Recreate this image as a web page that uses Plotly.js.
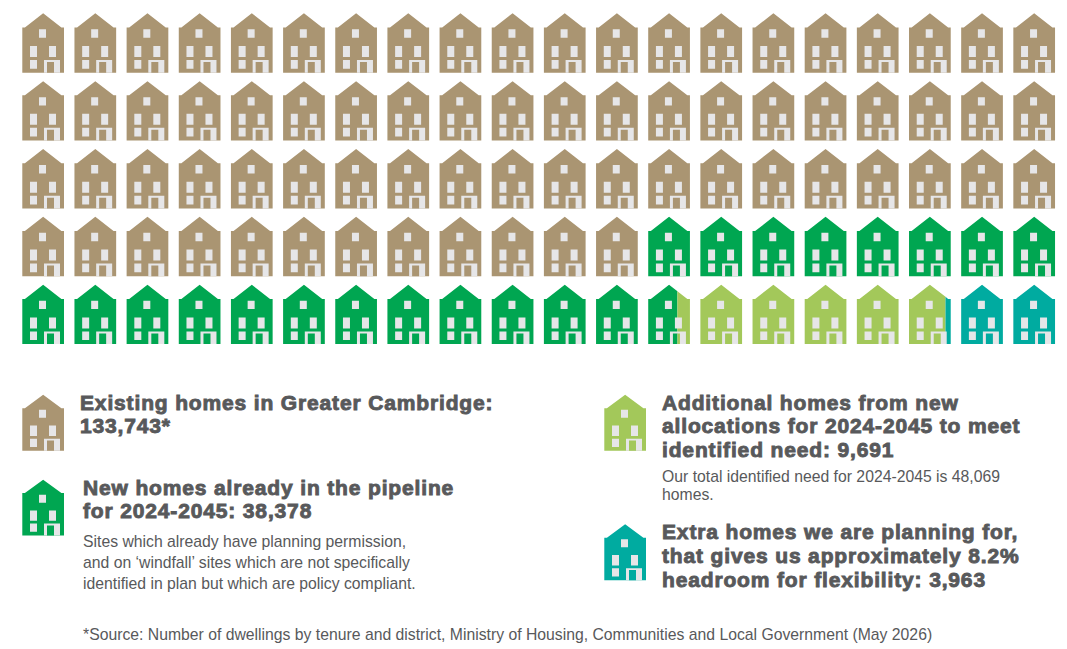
<!DOCTYPE html>
<html>
<head>
<meta charset="utf-8">
<script src="https://cdn.plot.ly/plotly-3.0.1.min.js"></script>
<style>
html,body{margin:0;padding:0;background:#fff;}
text.annotation-text[style*="font-size: 21"]{letter-spacing:0.85px;stroke:#58595b;stroke-width:0.9px;}
</style>
</head>
<body>
<div id="chart" style="width:1067px;height:649px;"></div>
<script>
// ---- data ----
var categories = ['Existing homes', 'Pipeline', 'New allocations', 'Headroom'];
var homes = [133743, 38378, 9691, 3963];
var iconShares = [72, 20.7, 5.175, 2.125];   // number of house icons filled by each category
var colors = ['#AA9572', '#00A651', '#A3C85A', '#00ABA0'];
var paneColor = '#E6E6E8';
var inkColor = '#58595B';

var gridCols = 20, gridRows = 5;
var gridX0 = 22.3, gridY0 = 13.3, pitchX = 52.16, pitchY = 67.85;

// house glyph, in px relative to its top-left corner
var glyphW = 41.7, glyphH = 59.4;
var glyphBody = [[0,59.4],[0,14.2],[2.6,14.2],[20.85,0],[39.1,14.2],[41.7,14.2],[41.7,59.4]];
function box(x0,x1,y0,y1){return [[x0,y0],[x1,y0],[x1,y1],[x0,y1]];}
var glyphPanes = [box(16.7,23.7,16,24.4),box(7.7,14.7,32.7,43.7),box(26.7,33.7,32.7,43.7),box(7.7,14.7,46.7,55.4),box(21.7,37.7,46.7,59.4)];
var glyphDoor = box(24.7,31.7,48.7,59.4);

// key icons
var keyIcons = [[22.3,394.8,0],[22.3,479.7,1],[604.3,394.8,2],[604.3,524.3,3]];
var keyScaleY = 0.94;

// text lines: [x, y centre, size class, string]
var lines = [
 [79.5,402.3,'h','Existing homes in Greater Cambridge:'],
 [79.5,425.3,'h','133,743*'],
 [82.5,487.8,'h','New homes already in the pipeline'],
 [82.5,510.8,'h','for 2024-2045: 38,378'],
 [82.5,541.2,'s','Sites which already have planning permission,'],
 [82.5,562.2,'s','and on ‘windfall’ sites which are not specifically'],
 [82.5,583.2,'s','identified in plan but which are policy compliant.'],
 [662,402.3,'h','Additional homes from new'],
 [662,425.3,'h','allocations for 2024-2045 to meet'],
 [662,449.3,'h','identified need: 9,691'],
 [662,476.2,'s','Our total identified need for 2024-2045 is 48,069'],
 [662,494.2,'s','homes.'],
 [662,531.8,'h','Extra homes we are planning for,'],
 [662,555.8,'h','that gives us approximately 8.2%'],
 [662,579.8,'h','headroom for flexibility: 3,963'],
 [82.5,634.2,'s','*Source: Number of dwellings by tenure and district, Ministry of Housing, Communities and Local Government (May 2026)']
];

// ---- helpers ----
function clipX(poly, a, b){
  function clip(p, lim, keepLess){
    var out = [];
    for (var i=0;i<p.length;i++){
      var c=p[i], n=p[(i+1)%p.length];
      var ci = keepLess ? c[0]<=lim : c[0]>=lim;
      var ni = keepLess ? n[0]<=lim : n[0]>=lim;
      if (ci) out.push(c);
      if (ci!==ni){
        var t=(lim-c[0])/(n[0]-c[0]);
        out.push([lim,c[1]+t*(n[1]-c[1])]);
      }
    }
    return out;
  }
  return clip(clip(poly,a,false),b,true);
}
function add(tr, poly, ox, oy, sy){
  if (!poly.length) return;
  poly.concat([poly[0]]).forEach(function(p){
    tr.x.push(ox+p[0]); tr.y.push(oy+p[1]*sy);
  });
  tr.x.push(null); tr.y.push(null);
}
function newTrace(name,color){
  return {type:'scatter',mode:'lines',name:name,x:[],y:[],fill:'toself',fillcolor:color,
          line:{width:0,color:color},hoverinfo:'skip',showlegend:false,connectgaps:false};
}

var bodies = categories.map(function(c,i){return newTrace(c,colors[i]);});
var panes = newTrace('panes',paneColor);
var doors = categories.map(function(c,i){return newTrace(c+' door',colors[i]);});

// cumulative boundaries of the categories, in icons
var cum = [0];
iconShares.forEach(function(v,i){cum.push(cum[i]+v);});

for (var n=0;n<gridCols*gridRows;n++){
  var ox = gridX0 + (n%gridCols)*pitchX;
  var oy = gridY0 + Math.floor(n/gridCols)*pitchY;
  glyphPanes.forEach(function(p){add(panes,p,ox,oy,1);});
  for (var k=0;k<categories.length;k++){
    var a = Math.max(cum[k],n), b = Math.min(cum[k+1],n+1);
    if (b<=a) continue;
    var xa=(a-n)*glyphW, xb=(b-n)*glyphW;
    add(bodies[k],clipX(glyphBody,xa,xb),ox,oy,1);
    add(doors[k],clipX(glyphDoor,xa,xb),ox,oy,1);
  }
}
keyIcons.forEach(function(ic){
  add(bodies[ic[2]],glyphBody,ic[0],ic[1],keyScaleY);
  glyphPanes.forEach(function(p){add(panes,p,ic[0],ic[1],keyScaleY);});
  add(doors[ic[2]],glyphDoor,ic[0],ic[1],keyScaleY);
});

var annotations = lines.map(function(l){
  var head = l[2]==='h';
  return {xref:'x',yref:'y',x:l[0],y:l[1],xanchor:'left',yanchor:'middle',align:'left',
          showarrow:false,borderpad:0,borderwidth:0,text:l[3],
          font:{family:'"Liberation Sans", Arial, sans-serif',size:head?21:15.75,color:inkColor,weight:head?700:400}};
});

var layout = {
  width:1067,height:649,margin:{l:0,r:0,t:0,b:0},
  paper_bgcolor:'#ffffff',plot_bgcolor:'#ffffff',showlegend:false,
  xaxis:{range:[0,1067],visible:false,fixedrange:true},
  yaxis:{range:[649,0],visible:false,fixedrange:true},
  annotations:annotations
};
Plotly.newPlot('chart',bodies.concat([panes]).concat(doors),layout,{displayModeBar:false,responsive:false});
</script>
</body>
</html>
